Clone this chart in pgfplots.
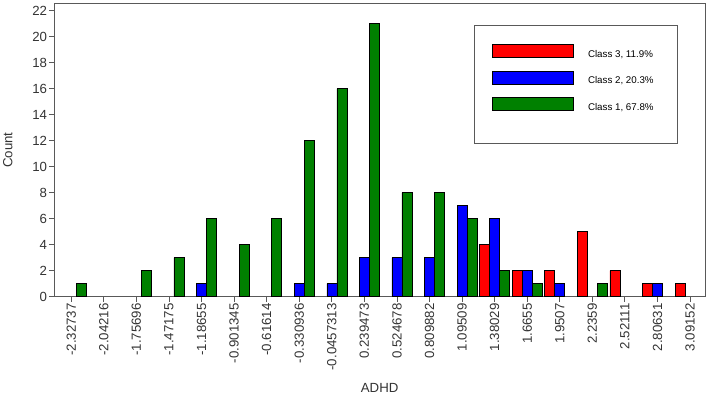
\documentclass[border=0pt]{standalone}
\usepackage{fontspec}
\setmainfont{Liberation Sans}
\usepackage{pgfplots}
\pgfplotsset{compat=1.18}

\definecolor{framegray}{HTML}{595959}
\definecolor{labeltext}{HTML}{333333}
\definecolor{cls3}{RGB}{255,0,0}
\definecolor{cls2}{RGB}{0,0,255}
\definecolor{cls1}{RGB}{0,128,0}

\newcommand{\tickfont}{\fontsize{13.3}{15}\selectfont}
\newcommand{\labelfont}{\fontsize{13.3}{15}\selectfont}
\newcommand{\legfont}{\fontsize{9.8}{11}\selectfont}

\begin{document}
\begin{tikzpicture}
\begin{axis}[
  at={(54.3bp,-296.7bp)}, anchor=south west,
  scale only axis, width=650.7bp, height=293.4bp,
  xmin=-0.522, xmax=19.46, ymin=0, ymax=22.57,
  ybar, bar width=0.307,
  axis line style={framegray, line width=0.8bp},
  tick style={framegray, line width=0.8bp},
  major tick length=5bp, tick align=outside, tick pos=left,
  xtick={0,...,19},
  xticklabels={-2.32737,-2.04216,-1.75696,-1.47175,-1.18655,-0.901345,-0.61614,-0.330936,-0.0457313,0.239473,0.524678,0.809882,1.09509,1.38029,1.6655,1.9507,2.2359,2.52111,2.80631,3.09152},
  xticklabel style={rotate=90, anchor=east, font=\tickfont, text=labeltext, inner sep=1.5bp},
  ytick={0,2,...,22},
  yticklabel style={font=\tickfont, text=labeltext, inner sep=2bp},
  /pgf/number format/assume math mode=true,
  xlabel={ADHD}, ylabel={Count},
  xlabel style={at={(axis description cs:0.5,-0.325)}, anchor=base, font=\labelfont, text=labeltext, inner sep=0pt},
  ylabel style={at={(axis description cs:-0.0716,0.5)}, anchor=center, font=\labelfont, text=labeltext, inner sep=0pt},
  legend image code/.code={\draw[#1] (0bp,0bp) rectangle (81bp,12.7bp);},
  legend style={at={(axis description cs:0.6455,0.926)}, anchor=north west,
    draw=framegray, line width=0.8bp, inner xsep=17.4bp, inner ysep=18.8bp,
    column sep=14.3bp, row sep=13.3bp, font=\legfont, text=black,
    cells={anchor=base west}, nodes={inner sep=0pt, text depth=0pt}},
]
% Class 3
\addplot[fill=cls3, draw=black, line width=0.6bp, bar shift=-0.307] coordinates {
  (13,4) (14,2) (15,2) (16,5) (17,2) (18,1) (19,1)};
\addlegendentry{Class 3, 11.9\%\hspace*{6.6bp}}
% Class 2
\addplot[fill=cls2, draw=black, line width=0.6bp, bar shift=0] coordinates {
  (4,1) (7,1) (8,1) (9,3) (10,3) (11,3) (12,7) (13,6) (14,2) (15,1) (18,1)};
\addlegendentry{Class 2, 20.3\%}
% Class 1
\addplot[fill=cls1, draw=black, line width=0.6bp, bar shift=0.307] coordinates {
  (0,1) (2,2) (3,3) (4,6) (5,4) (6,6) (7,12) (8,16) (9,21) (10,8) (11,8) (12,6) (13,2) (14,1) (16,1)};
\addlegendentry{Class 1, 67.8\%}
\addlegendimage{empty legend}
\addlegendentry{}
\end{axis}
\pgfresetboundingbox
\path[use as bounding box] (0,0) rectangle (709bp,-394bp);
\end{tikzpicture}
\end{document}
